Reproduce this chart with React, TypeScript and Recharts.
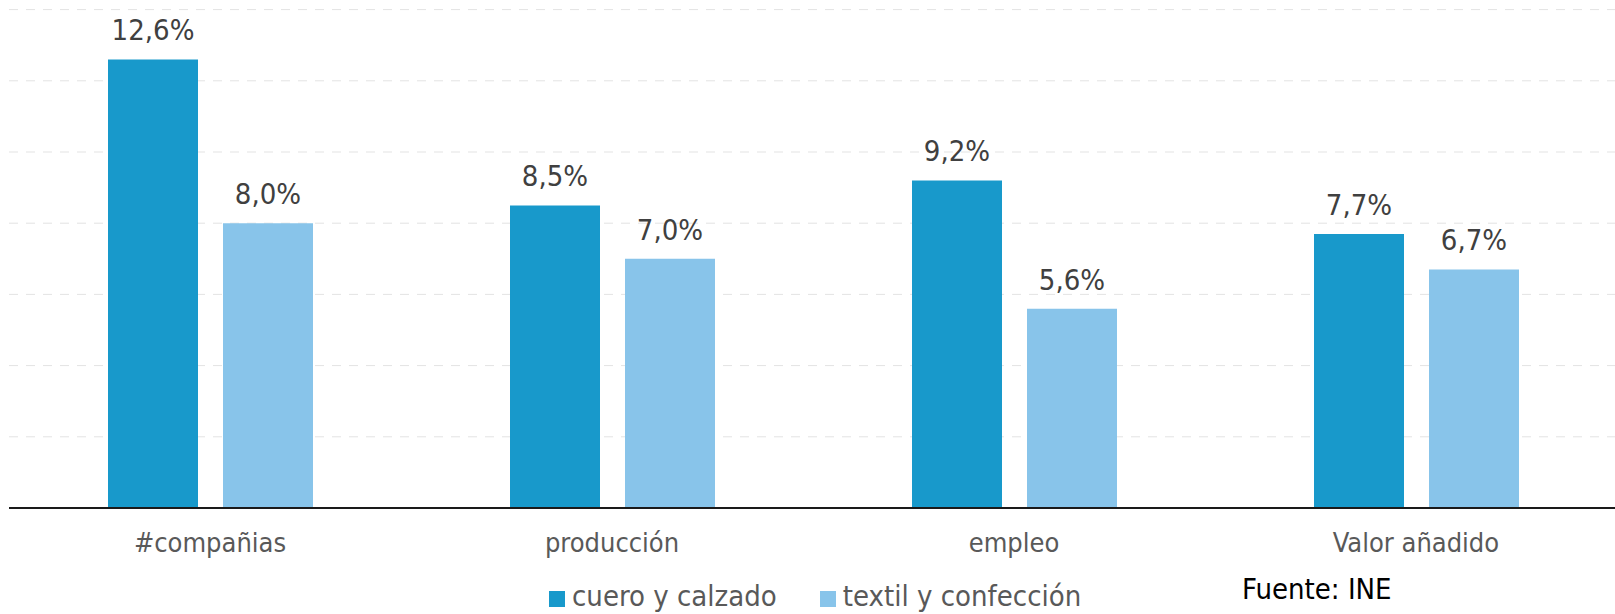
import React from "react";
import { Bar, BarChart, CartesianGrid, LabelList, XAxis, YAxis } from "recharts";

const CATEGORIES = ["#compañias", "producción", "empleo", "Valor añadido"];
const CUERO = [12.6, 8.5, 9.2, 7.7];
const TEXTIL = [8.0, 7.0, 5.6, 6.7];
const Y_TICKS = [0, 2, 4, 6, 8, 10, 12, 14];

const DARK = "#1899cb";
const LIGHT = "#88c4ea";
const FONT = "'DejaVu Sans Condensed', 'DejaVu Sans', sans-serif";

const data = CATEGORIES.map((cat, i) => ({ cat, cuero: CUERO[i], textil: TEXTIL[i] }));

const fmt = (v: number) => `${v.toFixed(1).replace(".", ",")}%`;

const legendItems = [
  { label: "cuero y calzado", color: DARK },
  { label: "textil y confección", color: LIGHT }
];

// legend drawn outside recharts so it doesn't eat plot height
function ChartLegend() {
  return (
    <div
      style={{
        position: "absolute",
        left: 549,
        top: 579,
        display: "flex",
        alignItems: "flex-start",
        fontFamily: FONT,
        fontSize: 29,
        color: "#595959",
        lineHeight: "34px",
        whiteSpace: "nowrap"
      }}
    >
      {legendItems.map((it, i) => (
        <div key={it.label} style={{ display: "flex", alignItems: "flex-start", marginRight: i === 0 ? 43 : 0 }}>
          <span style={{ width: 16, height: 16, background: it.color, display: "inline-block", marginRight: 7, marginTop: 12 }} />
          <span>{it.label}</span>
        </div>
      ))}
    </div>
  );
}

export default function App() {
  return (
    <div style={{ position: "absolute", left: 0, top: 0, width: 1615, height: 614, overflow: "hidden", background: "#fff" }}>
      <BarChart
        width={1617}
        height={614}
        data={data}
        margin={{ top: 9.6, right: 0, left: 9, bottom: 46 }}
        barSize={90}
        barGap={25}
      >
        <CartesianGrid horizontal vertical={false} stroke="#e3e3e3" strokeDasharray="9 8" />
        <XAxis
          dataKey="cat"
          height={60}
          interval={0}
          tickLine={false}
          tickSize={0}
          tickMargin={25}
          axisLine={{ stroke: "#1a1a1a", strokeWidth: 2 }}
          tick={{ fill: "#595959", fontSize: 27, fontFamily: FONT }}
        />
        <YAxis hide domain={[0, 14]} ticks={Y_TICKS} />
        <Bar dataKey="cuero" fill={DARK} isAnimationActive={false}>
          <LabelList dataKey="cuero" position="top" offset={19} formatter={fmt} fill="#404040" fontSize={29} fontFamily={FONT} />
        </Bar>
        <Bar dataKey="textil" fill={LIGHT} isAnimationActive={false}>
          <LabelList dataKey="textil" position="top" offset={19} formatter={fmt} fill="#404040" fontSize={29} fontFamily={FONT} />
        </Bar>
      </BarChart>
      <ChartLegend />
      <svg style={{ position: "absolute", left: 0, top: 0 }} width={1615} height={614} pointerEvents="none">
        <text x={1242} y={599} fontFamily={FONT} fontSize={29} fill="#000">
          Fuente: INE
        </text>
      </svg>
    </div>
  );
}
